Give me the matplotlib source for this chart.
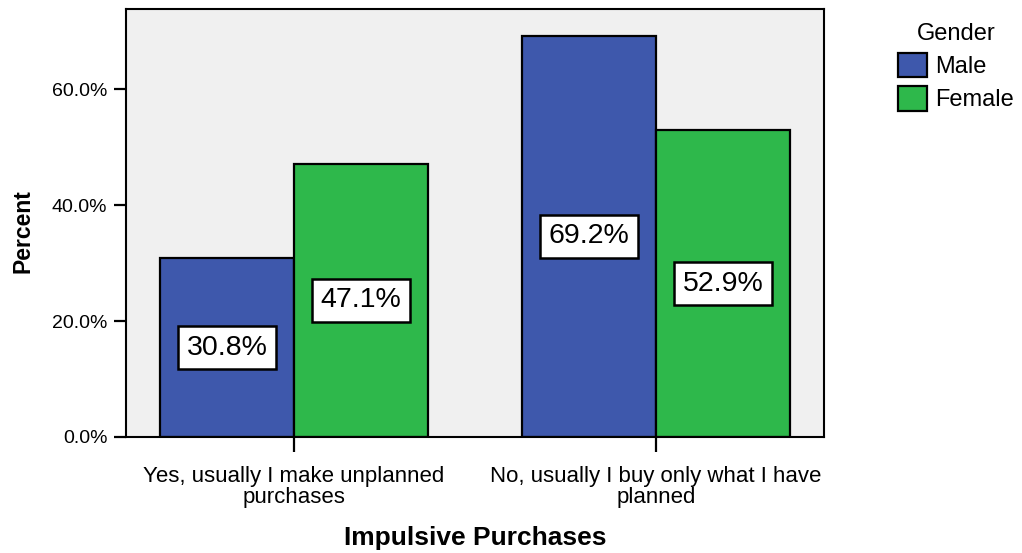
import matplotlib.pyplot as plt
import numpy as np

plt.rcParams['font.family'] = ['Liberation Sans', 'DejaVu Sans']

categories = ["Yes, usually I make unplanned\npurchases",
              "No, usually I buy only what I have\nplanned"]
genders = ["Male", "Female"]
male_pct = [30.8, 69.2]
female_pct = [47.1, 52.9]
yticks = [0, 20, 40, 60]

colors = ["#3E58AC", "#2EB84B"]

fig = plt.figure(figsize=(10.22, 5.53), dpi=100)
ax = fig.add_axes([0.1233, 0.2098, 0.6830, 0.7739])
ax.set_facecolor("#F0F0F0")

x = np.arange(len(categories))
width = 0.37
for offset, vals, col, name in [(-0.5, male_pct, colors[0], genders[0]),
                                (0.5, female_pct, colors[1], genders[1])]:
    pos = x + offset * width
    ax.bar(pos, vals, width, color=col, edgecolor="black",
           linewidth=1.6, label=name, zorder=2)
    # value boxes sit halfway up each bar
    for px, v in zip(pos, vals):
        ax.text(px, v / 2, f"{v:.1f}%", ha="center", va="center",
                fontsize=20.5, zorder=3,
                bbox=dict(boxstyle="square,pad=0.29", facecolor="white",
                          edgecolor="black", linewidth=1.8))

ax.set_xlim(-0.464, 1.464)
ax.set_ylim(0, 73.8)
ax.set_yticks(yticks)
ax.set_yticklabels([f"{t:.1f}%" for t in yticks], fontsize=14)
ax.set_xticks(x)
ax.set_xticklabels(categories, fontsize=16, linespacing=1.0)

ax.tick_params(axis="y", length=8.5, width=1.6, pad=5)
ax.tick_params(axis="x", length=11, width=1.6, pad=10)
for s in ax.spines.values():
    s.set_linewidth(1.5)
    s.set_color("black")

ax.set_xlabel("Impulsive Purchases", fontsize=19, fontweight="bold",
              labelpad=13)
ax.set_ylabel("Percent", fontsize=16.5, fontweight="bold")
ax.yaxis.set_label_coords(-0.131, 0.48)

leg = ax.legend(title="Gender", loc="upper left",
                bbox_to_anchor=(1.093, 0.99), frameon=False, fontsize=17,
                title_fontsize=17, handlelength=1.2, handleheight=1.2,
                handletextpad=0.35, labelspacing=0.35, borderaxespad=0.0)

fig.savefig("out.png", dpi=100)
